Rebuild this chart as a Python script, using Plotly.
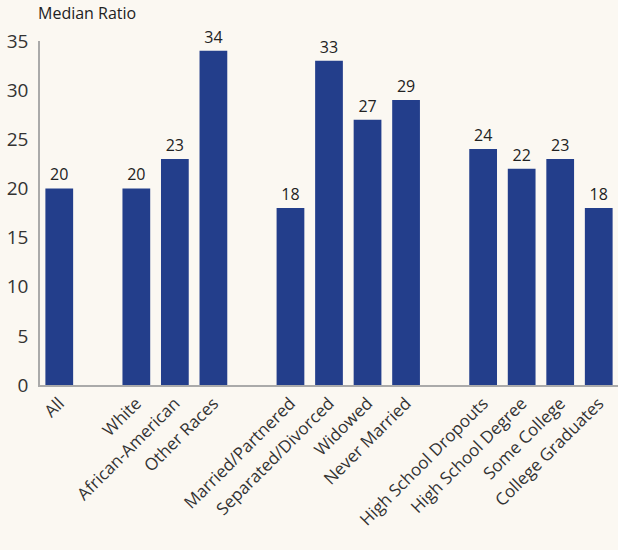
import plotly.graph_objects as go

groups = [
    ["All"],
    ["White", "African-American", "Other Races"],
    ["Married/Partnered", "Separated/Divorced", "Widowed", "Never Married"],
    ["High School Dropouts", "High School Degree", "Some College", "College Graduates"],
]
values = [20, 20, 23, 34, 18, 33, 27, 29, 24, 22, 23, 18]
y_ticks = [0, 5, 10, 15, 20, 25, 30, 35]

categories = []
positions = []
pos = 0
for g in groups:
    for c in g:
        categories.append(c)
        positions.append(pos)
        pos += 1
    pos += 1

font = "'Open Sans', sans-serif"
fig = go.Figure(go.Bar(
    x=positions, y=values, width=0.72,
    marker=dict(color="#233e8b", line=dict(width=0)),
    text=[str(v) for v in values], textposition="outside",
    textfont=dict(size=16, color="#222", family=font),
    cliponaxis=False,
))
fig.update_layout(
    width=618, height=550,
    margin=dict(l=40, r=0, t=41, b=165),
    paper_bgcolor="#fbf8f2", plot_bgcolor="#fbf8f2",
    showlegend=False,
    font=dict(family=font, color="#333"),
    xaxis=dict(range=[-0.5, 14.5], tickvals=positions, ticktext=categories,
               tickangle=-45, tickfont=dict(size=17, color="#333"),
               showline=True, linecolor="#aaa", linewidth=1.5, showgrid=False,
               ticks="", zeroline=False),
    yaxis=dict(range=[0, 35], tickvals=y_ticks, tickfont=dict(size=19, color="#333"),
               showline=True, linecolor="#aaa", linewidth=1.5, showgrid=False,
               ticks="", zeroline=False, ticklabelstandoff=6),
)
fig.layout.annotations = [dict(text="Median Ratio", x=0, y=1, xref="paper", yref="paper",
                               xanchor="left", yanchor="bottom", yshift=15, xshift=-4,
                               showarrow=False, font=dict(size=16, color="#222"))]
fig.write_html("out.html")
